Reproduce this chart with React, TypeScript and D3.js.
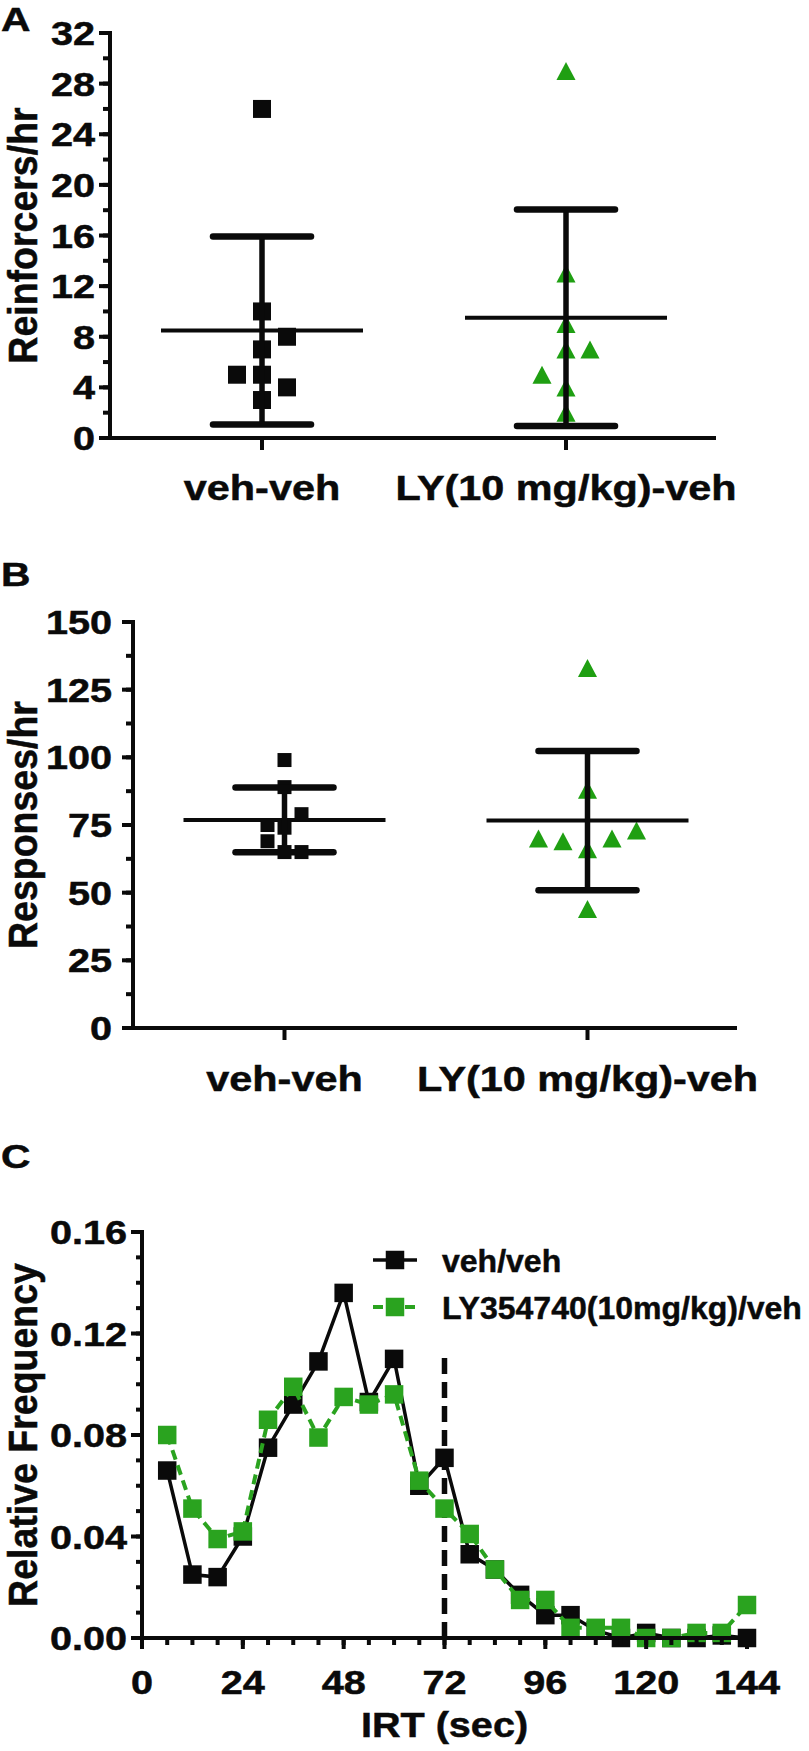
import React from "react";
import * as d3 from "d3";

// ---------- data ----------
const groups = ["veh-veh", "LY(10 mg/kg)-veh"];

// Panel A: reinforcers per hour (individual rats)
const reinfVeh = [26, 10, 8, 7, 5, 5, 4, 3];
const reinfVehCol = [0, 0, 1, 0, -1, 0, 1, 0];
const reinfLY = [29, 13, 9, 7, 7, 5, 4, 2];
const reinfLYCol = [0, 0, 0, 0, 1, -1, 0, 0];
const reinfTicks = [0, 4, 8, 12, 16, 20, 24, 28, 32];

// Panel B: responses per hour (individual rats)
const respVeh = [99, 89, 79, 75, 74, 69, 65, 65];
const respVehCol = [0, 0, 1, -1, 0, -1, 0, 1];
const respLY = [133, 88, 73, 70, 70, 69, 66, 44];
const respLYCol = [0, 0, 2, -2, 1, -1, 0, 0];
const respTicks = [0, 25, 50, 75, 100, 125, 150];

// Panel C: IRT distribution
const irtBins = [6, 12, 18, 24, 30, 36, 42, 48, 54, 60, 66, 72, 78, 84, 90, 96, 102, 108, 114, 120, 126, 132, 138, 144];
const freqVeh = [0.066, 0.025, 0.024, 0.040, 0.075, 0.092, 0.109, 0.136, 0.093, 0.110, 0.060, 0.071, 0.033, 0.027, 0.017, 0.009, 0.009, 0.003, 0.000, 0.002, 0.000, 0.000, 0.001, 0.000];
const freqLY = [0.080, 0.051, 0.039, 0.042, 0.086, 0.099, 0.079, 0.095, 0.092, 0.096, 0.062, 0.051, 0.041, 0.027, 0.015, 0.015, 0.004, 0.004, 0.004, 0.000, 0.000, 0.002, 0.002, 0.013];
const seriesNames = ["veh/veh", "LY354740(10mg/kg)/veh"];
const irtTicks = [0, 24, 48, 72, 96, 120, 144];
const freqTicks = [0, 0.04, 0.08, 0.12, 0.16];
const cutoffIRT = 72;
const cutoffTop = 0.111;

// ---------- styles ----------
const FONT = "'Liberation Sans', Arial, Helvetica, sans-serif";
const GREEN = "#1f9f12";
const GREEN_C = "#2aa31f";
const BLACK = "#0a0a0a";
const SX = 1.2; // horizontal stretch of the lettering in the original figure

const markerPath = (type: string, s: number) =>
  type === "square"
    ? `M${-s / 2},${-s / 2}h${s}v${s}h${-s}Z`
    : `M0,${-s * 0.5}L${s * 0.53},${s * 0.5}L${-s * 0.53},${s * 0.5}Z`;

function T(props: { x: number; y: number; size: number; anchor?: string; sx?: number; rotate?: number; fill?: string; children: any }) {
  const { x, y, size, anchor = "start", sx = SX, rotate = 0, fill = BLACK, children } = props;
  return (
    <text
      transform={`translate(${x},${y}) scale(${sx},1)${rotate ? ` rotate(${rotate})` : ""}`}
      textAnchor={anchor}
      fontFamily={FONT}
      fontWeight="bold"
      fontSize={size}
      fill={fill}
      stroke={fill}
      strokeWidth={0.5}
    >
      {children}
    </text>
  );
}

type Grp = { vals: number[]; cols: number[]; marker: string; color: string; size: number; step: number };

function ScatterPanel(props: {
  yDomain: [number, number];
  yRange: [number, number];
  ticks: number[];
  minorStep: number;
  axisX: number;
  axisEnd: number;
  tickLabelX: number;
  grps: Grp[];
  labelBaseline: number;
  title: string;
  titleX: number;
  letter: string;
  letterY: number;
}) {
  const { yDomain, yRange, ticks, minorStep, axisX, axisEnd, tickLabelX, grps, labelBaseline, title, titleX, letter, letterY } = props;
  const y = d3.scaleLinear().domain(yDomain).range(yRange);
  const x = d3.scalePoint<string>().domain(groups).range([axisX, axisEnd]).padding(0.5);
  const y0 = y(yDomain[0]);
  const minor = d3.range(yDomain[0], yDomain[1] + 1e-9, minorStep);
  return (
    <g>
      <T x={1} y={letterY} size={34}>{letter}</T>
      <T x={titleX} y={(yRange[0] + yRange[1]) / 2} size={37.5} sx={1.1} anchor="middle" rotate={-90}>{title}</T>
      {/* points */}
      {grps.map((g, gi) => {
        const cx = x(groups[gi]) as number;
        return g.vals.map((v, i) => (
          <path key={`p${gi}-${i}`} d={markerPath(g.marker, g.size)} transform={`translate(${cx + g.cols[i] * g.step},${y(v)})`} fill={g.color} />
        ));
      })}
      {/* mean ± SD */}
      {grps.map((g, gi) => {
        const cx = x(groups[gi]) as number;
        const m = d3.mean(g.vals) as number;
        const sd = d3.deviation(g.vals) as number;
        return (
          <g key={`e${gi}`} stroke={BLACK}>
            <line x1={cx - 101} x2={cx + 101} y1={y(m)} y2={y(m)} strokeWidth={4} />
            <line x1={cx} x2={cx} y1={y(m + sd)} y2={y(m - sd)} strokeWidth={5.5} />
            <line x1={cx - 49} x2={cx + 49} y1={y(m + sd)} y2={y(m + sd)} strokeWidth={6.5} strokeLinecap="round" />
            <line x1={cx - 49} x2={cx + 49} y1={y(m - sd)} y2={y(m - sd)} strokeWidth={6.5} strokeLinecap="round" />
          </g>
        );
      })}
      {/* axes */}
      <g stroke={BLACK} strokeWidth={4}>
        <line x1={axisX} x2={axisX} y1={y(yDomain[1]) - 2} y2={y0 + 2} />
        <line x1={axisX - 2} x2={axisEnd - 2} y1={y0} y2={y0} />
        {minor.map((t) => (
          <line key={`m${t}`} x1={axisX - 7} x2={axisX} y1={y(t)} y2={y(t)} />
        ))}
        {ticks.map((t) => (
          <line key={`t${t}`} x1={axisX - 11} x2={axisX} y1={y(t)} y2={y(t)} />
        ))}
        {groups.map((gname) => (
          <line key={`xt${gname}`} x1={x(gname)} x2={x(gname)} y1={y0} y2={y0 + 12} />
        ))}
      </g>
      {ticks.map((t) => (
        <T key={`l${t}`} x={tickLabelX} y={y(t) + 12} size={33} anchor="end">{t}</T>
      ))}
      {groups.map((gname) => (
        <T key={`xl${gname}`} x={x(gname) as number} y={labelBaseline} size={36} sx={1.15} anchor="middle">{gname}</T>
      ))}
    </g>
  );
}

function LinePanel() {
  const x = d3.scaleLinear().domain([0, 146]).range([142, 755.4]);
  const y = d3.scaleLinear().domain([0, 0.16]).range([1638, 1232]);
  const y0 = y(0);
  const line = d3
    .line<number>()
    .x((_, i) => x(irtBins[i]))
    .y((d) => y(d));
  const minorY = d3.range(0, 0.16 + 1e-9, 0.01);
  const minorX = d3.range(0, 145, 6);
  const sq = markerPath("square", 18.5);
  return (
    <g>
      <T x={1} y={1168} size={34}>C</T>
      <T x={37} y={(1232 + 1638) / 2} size={37.5} sx={1.1} anchor="middle" rotate={-90}>Relative Frequency</T>
      {/* cutoff line */}
      <line x1={x(cutoffIRT)} x2={x(cutoffIRT)} y1={y0} y2={y(cutoffTop)} stroke={BLACK} strokeWidth={5.5} strokeDasharray="16,8" />
      {/* veh */}
      <path d={line(freqVeh) as string} fill="none" stroke={BLACK} strokeWidth={3.5} />
      {freqVeh.map((v, i) => (
        <path key={`b${i}`} d={sq} transform={`translate(${x(irtBins[i])},${y(v)})`} fill={BLACK} />
      ))}
      {/* LY */}
      <path d={line(freqLY) as string} fill="none" stroke={GREEN_C} strokeWidth={4} strokeDasharray="10,6" />
      {freqLY.map((v, i) => (
        <path key={`g${i}`} d={sq} transform={`translate(${x(irtBins[i])},${y(v)})`} fill={GREEN_C} />
      ))}
      {/* axes */}
      <g stroke={BLACK} strokeWidth={4}>
        <line x1={x(0)} x2={x(0)} y1={y(0.16) - 2} y2={y0 + 2} />
        <line x1={x(0) - 2} x2={x(146)} y1={y0} y2={y0} />
        {minorY.map((t, i) => (
          <line key={`my${i}`} x1={x(0) - 6} x2={x(0)} y1={y(t)} y2={y(t)} />
        ))}
        {freqTicks.map((t) => (
          <line key={`ty${t}`} x1={x(0) - 11} x2={x(0)} y1={y(t)} y2={y(t)} />
        ))}
        {minorX.map((t) => (
          <line key={`mx${t}`} x1={x(t)} x2={x(t)} y1={y0} y2={y0 + 7} />
        ))}
        {irtTicks.map((t) => (
          <line key={`tx${t}`} x1={x(t)} x2={x(t)} y1={y0} y2={y0 + 11} />
        ))}
      </g>
      {freqTicks.map((t) => (
        <T key={`ly${t}`} x={127} y={y(t) + 12} size={33} anchor="end">{t.toFixed(2)}</T>
      ))}
      {irtTicks.map((t) => (
        <T key={`lx${t}`} x={x(t)} y={1694} size={33} anchor="middle">{t}</T>
      ))}
      <T x={(x(0) + x(144)) / 2} y={1737} size={36} sx={1.1} anchor="middle">IRT (sec)</T>
      {/* legend */}
      <g>
        <line x1={373} x2={417} y1={1260} y2={1260} stroke={BLACK} strokeWidth={3.5} />
        <path d={sq} transform="translate(395,1260)" fill={BLACK} />
        <T x={442} y={1271.5} size={32} sx={1.0}>{seriesNames[0]}</T>
        <line x1={373} x2={417} y1={1307} y2={1307} stroke={GREEN_C} strokeWidth={4} strokeDasharray="10,6" />
        <path d={sq} transform="translate(395,1307)" fill={GREEN_C} />
        <T x={442} y={1318.5} size={32} sx={1.0}>{seriesNames[1]}</T>
      </g>
    </g>
  );
}

export default function App() {
  return (
    <svg width={809} height={1751} style={{ position: "absolute", left: 0, top: 0, background: "#fff" }}>
      <rect width={809} height={1751} fill="#fff" />
      <ScatterPanel
        yDomain={[0, 32]}
        yRange={[438, 33]}
        ticks={reinfTicks}
        minorStep={2}
        axisX={110}
        axisEnd={718}
        tickLabelX={95}
        grps={[
          { vals: reinfVeh, cols: reinfVehCol, marker: "square", color: BLACK, size: 18, step: 25 },
          { vals: reinfLY, cols: reinfLYCol, marker: "triangle", color: GREEN, size: 18, step: 24 },
        ]}
        labelBaseline={500}
        title="Reinforcers/hr"
        titleX={37}
        letter="A"
        letterY={31}
      />
      <ScatterPanel
        yDomain={[0, 150]}
        yRange={[1028, 622]}
        ticks={respTicks}
        minorStep={12.5}
        axisX={133}
        axisEnd={739}
        tickLabelX={112}
        grps={[
          { vals: respVeh, cols: respVehCol, marker: "square", color: BLACK, size: 14, step: 17 },
          { vals: respLY, cols: respLYCol, marker: "triangle", color: GREEN, size: 18, step: 24.5 },
        ]}
        labelBaseline={1091}
        title="Responses/hr"
        titleX={37}
        letter="B"
        letterY={586}
      />
      <LinePanel />
    </svg>
  );
}
